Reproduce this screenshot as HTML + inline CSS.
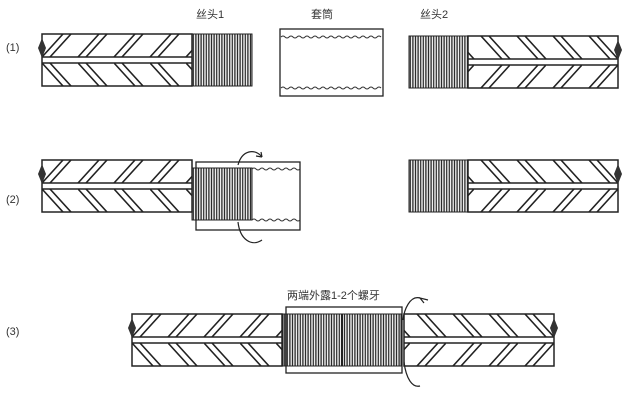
<!DOCTYPE html>
<html><head><meta charset="utf-8"><style>
html,body{margin:0;padding:0;background:#fff;width:640px;height:400px;overflow:hidden}
svg{display:block}
text{font-family:"Liberation Sans","Noto Sans CJK SC",sans-serif;fill:#333}
</style></head><body>
<svg width="640" height="400" viewBox="0 0 640 400" xmlns="http://www.w3.org/2000/svg">
<defs>
  <pattern id="thr" patternUnits="userSpaceOnUse" width="2.6" height="10">
    <line x1="1.3" y1="0" x2="1.3" y2="10" stroke="#222" stroke-width="1.3"/>
  </pattern>
  <pattern id="ribT" patternUnits="userSpaceOnUse" x="0" y="0" width="36" height="23">
    <path d="M0,23 L21,0 M8,23 L29,0 M36,23 L57,0 M44,23 L65,0 M-36,23 L-15,0 M-28,23 L-7,0" stroke="#222" stroke-width="1.6" fill="none"/>
  </pattern>
  <pattern id="ribB" patternUnits="userSpaceOnUse" x="0" y="29" width="36" height="23">
    <path d="M0,0 L21,23 M8,0 L29,23 M-36,0 L-15,23 M-28,0 L-7,23" stroke="#222" stroke-width="1.6" fill="none"/>
  </pattern>
  <g id="bar">
    <rect x="0" y="0" width="150" height="52" fill="#fff" stroke="#222" stroke-width="1.5"/>
    <rect x="0" y="0" width="150" height="23" fill="url(#ribT)"/>
    <rect x="0" y="29" width="150" height="23" fill="url(#ribB)"/>
    <line x1="0" y1="23" x2="150" y2="23" stroke="#222" stroke-width="1.5"/>
    <line x1="0" y1="29" x2="150" y2="29" stroke="#222" stroke-width="1.5"/>
    <path d="M0,4 L-4,14 L0,24 L4,14 Z" fill="#333"/>
  </g>
  <g id="th">
    <rect x="0" y="0" width="60" height="52" fill="url(#thr)" stroke="#222" stroke-width="1"/>
  </g>
</defs>

<text x="196" y="18" font-size="11">丝头1</text>
<text x="311" y="18" font-size="11">套筒</text>
<text x="420" y="18" font-size="11">丝头2</text>
<text x="6" y="51" font-size="11">(1)</text>
<text x="6" y="203" font-size="11">(2)</text>
<text x="6" y="335" font-size="11">(3)</text>
<text x="287" y="299" font-size="11">两端外露1-2个螺牙</text>

<!-- Row 1 -->
<use href="#bar" x="42" y="34"/>
<use href="#th" x="192" y="34"/>
<rect x="280" y="29" width="103" height="67" fill="#fff" stroke="#222" stroke-width="1.3"/>
<path d="M281,37 q2,-2 4,0 t4,0 t4,0 t4,0 t4,0 t4,0 t4,0 t4,0 t4,0 t4,0 t4,0 t4,0 t4,0 t4,0 t4,0 t4,0 t4,0 t4,0 t4,0 t4,0 t4,0 t4,0 t4,0 t4,0 t4,0" stroke="#333" fill="none"/>
<path d="M281,88 q2,-2 4,0 t4,0 t4,0 t4,0 t4,0 t4,0 t4,0 t4,0 t4,0 t4,0 t4,0 t4,0 t4,0 t4,0 t4,0 t4,0 t4,0 t4,0 t4,0 t4,0 t4,0 t4,0 t4,0 t4,0 t4,0" stroke="#333" fill="none"/>
<use href="#th" x="409" y="36"/>
<g transform="translate(618,36) scale(-1,1)"><use href="#bar" x="0" y="0"/></g>

<!-- Row 2 -->
<use href="#bar" x="42" y="160"/>
<use href="#th" x="192" y="168"/>
<rect x="196" y="162" width="104" height="68" fill="none" stroke="#222" stroke-width="1.3"/>
<path d="M252,169 q2,-2 4,0 t4,0 t4,0 t4,0 t4,0 t4,0 t4,0 t4,0 t4,0 t4,0 t4,0 t4,0" stroke="#333" fill="none"/>
<path d="M252,220 q2,-2 4,0 t4,0 t4,0 t4,0 t4,0 t4,0 t4,0 t4,0 t4,0 t4,0 t4,0 t4,0" stroke="#333" fill="none"/>
<path d="M262,157 C255,148 242,150 238,165 M238,222 C240,240 252,247 262,240" stroke="#222" fill="none" stroke-width="1.2"/>
<path d="M262,157 l-6,-1 M262,157 l-1,-5" stroke="#222" stroke-width="1.2"/>
<use href="#th" x="409" y="160"/>
<g transform="translate(618,160) scale(-1,1)"><use href="#bar" x="0" y="0"/></g>

<!-- Row 3 -->
<use href="#bar" x="132" y="314"/>
<rect x="283" y="314" width="118" height="52" fill="url(#thr)" stroke="#222" stroke-width="1"/>
<line x1="342" y1="314" x2="342" y2="366" stroke="#222" stroke-width="2"/>
<rect x="286" y="307" width="116" height="66" fill="none" stroke="#222" stroke-width="1.3"/>
<g transform="translate(554,314) scale(-1,1)"><use href="#bar" x="0" y="0"/></g>
<path d="M420,298 C410,295 404,310 403,320 M404,362 C406,378 412,388 420,386" stroke="#222" fill="none" stroke-width="1.2"/>
<path d="M428,300 l-8,-2 l4,5" stroke="#222" fill="none" stroke-width="1.2"/>
</svg>
</body></html>
